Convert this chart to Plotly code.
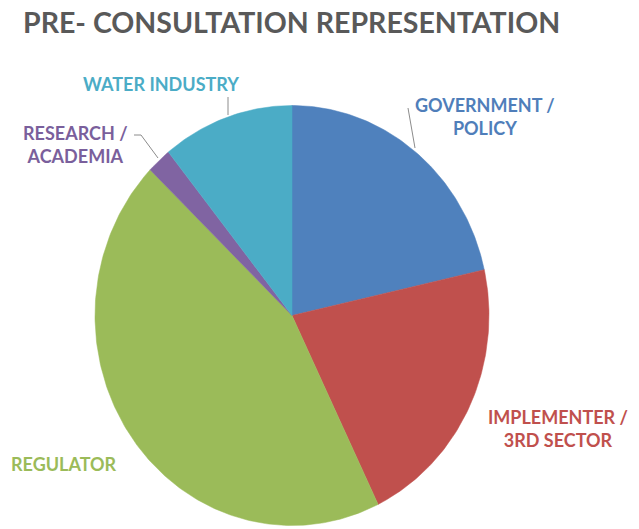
import numpy as np
import plotly.graph_objects as go

# Stakeholder shares (percent), clockwise from 12 o'clock
categories = ["GOVERNMENT / POLICY", "IMPLEMENTER / 3RD SECTOR", "REGULATOR",
              "RESEARCH / ACADEMIA", "WATER INDUSTRY"]
shares = [21.5, 21.3, 44.4, 2.0, 10.8]
colors = ["#4F81BD", "#C0504D", "#9BBB59", "#8064A2", "#4BACC6"]

W, H = 639, 529
CX, CY, RX, RY = 292, 315.5, 197, 210

fig = go.Figure()

total = sum(shares)
start = 0.0
for name, val, col in zip(categories, shares, colors):
    a0 = start / total * 2 * np.pi
    a1 = (start + val) / total * 2 * np.pi
    t = np.linspace(a0, a1, max(int(val * 4), 8))
    xs = np.concatenate([[CX], CX + RX * np.sin(t), [CX]])
    ys = np.concatenate([[CY], CY - RY * np.cos(t), [CY]])
    fig.add_trace(go.Scatter(x=xs, y=ys, mode="lines", fill="toself",
                             fillcolor=col, line=dict(color=col, width=0.5),
                             name=name, hoverinfo="name", showlegend=False))
    start += val

LBL_FONT = "Lato"
label_specs = [
    ("GOVERNMENT /<br>POLICY", 485, 116, "#4F7EBA"),
    ("IMPLEMENTER /<br>3RD SECTOR", 558, 428, "#C0504D"),
    ("REGULATOR", 64, 464, "#9BBB59"),
    ("RESEARCH /<br>ACADEMIA", 75, 144, "#7A5F9C"),
    ("WATER INDUSTRY", 161, 84, "#4BACC6"),
]
for text, x, y, col in label_specs:
    fig.add_annotation(x=x, y=y, text=text, showarrow=False, xref="x", yref="y",
                       font=dict(family=LBL_FONT, size=18, color=col, weight="bold"),
                       align="center", xanchor="center", yanchor="middle")

# leader lines
leaders = [
    [(408, 108), (415, 148)],
    [(134, 135), (141, 135), (158, 158)],
    [(228, 97), (228, 115)],
]
for pts in leaders:
    fig.add_trace(go.Scatter(x=[p[0] for p in pts], y=[p[1] for p in pts],
                             mode="lines", line=dict(color="#8C8C8C", width=1),
                             hoverinfo="skip", showlegend=False))

fig.add_annotation(x=291, y=22, xref="x", yref="y", showarrow=False,
                   text="PRE- CONSULTATION REPRESENTATION",
                   font=dict(family=LBL_FONT, size=28.5, color="#595959", weight="bold"),
                   xanchor="center", yanchor="middle")

fig.update_xaxes(range=[0, W], visible=False, fixedrange=True)
fig.update_yaxes(range=[H, 0], visible=False, fixedrange=True)
fig.update_layout(width=W, height=H, margin=dict(l=0, r=0, t=0, b=0),
                  paper_bgcolor="white", plot_bgcolor="white")

fig.write_html("out.html")
